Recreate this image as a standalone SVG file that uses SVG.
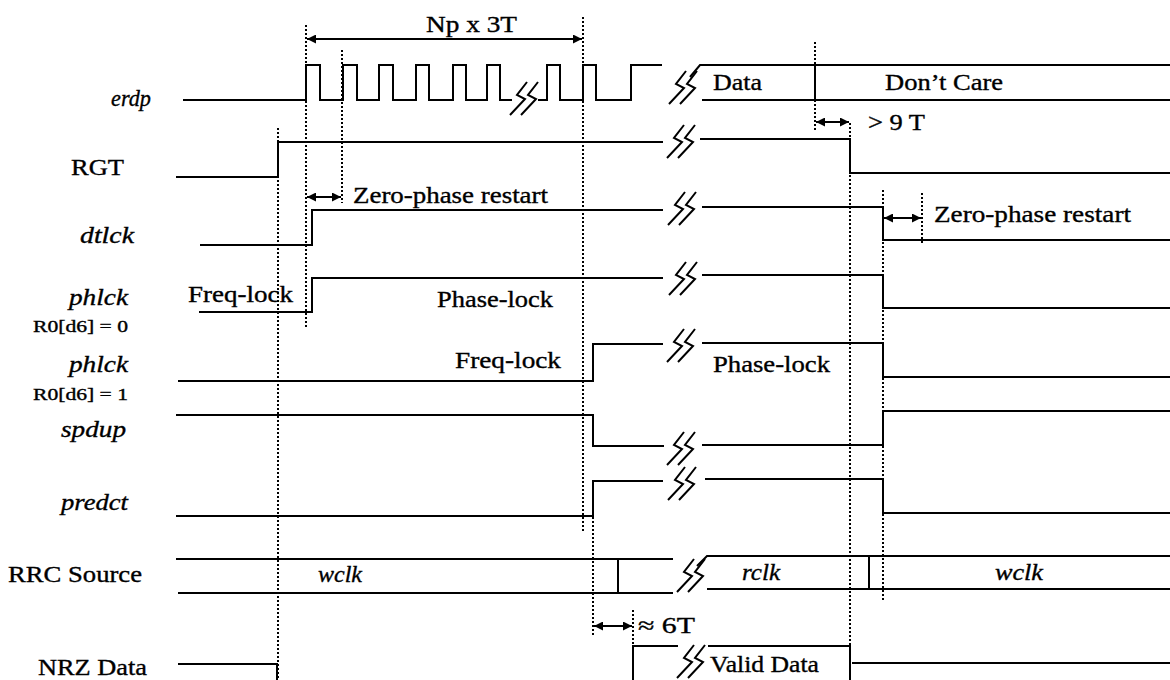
<svg xmlns="http://www.w3.org/2000/svg" width="1170" height="680" viewBox="0 0 1170 680">
<style>
.sig{fill:none;stroke:#000;stroke-width:2;stroke-linejoin:miter}
.dot{fill:none;stroke:#000;stroke-width:2;stroke-dasharray:2 2}
.arr{fill:none;stroke:#000;stroke-width:2;marker-start:url(#ah);marker-end:url(#ah)}
.brk{fill:none;stroke:#000;stroke-width:2}
.t{font-family:'Liberation Serif','DejaVu Serif','Times New Roman',serif;font-size:23px;fill:#000;stroke:#000;stroke-width:0.35}
.it{font-style:italic}
.sm{font-size:16px}
</style>
<defs>
<marker id="ah" viewBox="0 0 10 10" refX="10" refY="5" markerWidth="11" markerHeight="9" markerUnits="userSpaceOnUse" orient="auto-start-reverse"><path d="M0,0 L10,5 L0,10 z" fill="#000"/></marker>
<g id="brk" class="brk"><path d="M2,-15 L-8,-2 L0,2 L-15,18"/><path d="M13,-15 L3,-2 L11,2 L-4,18"/></g>
</defs>
<rect width="1170" height="680" fill="#fff"/>

<g id="labels" class="t">
<text class="it" x="111" y="106" textLength="40" lengthAdjust="spacingAndGlyphs">erdp</text>
<text x="71" y="175" textLength="53" lengthAdjust="spacingAndGlyphs">RGT</text>
<text class="it" x="80" y="243" textLength="54" lengthAdjust="spacingAndGlyphs">dtlck</text>
<text class="it" x="69" y="305" textLength="59" lengthAdjust="spacingAndGlyphs">phlck</text>
<text class="sm" x="33" y="332" textLength="95" lengthAdjust="spacingAndGlyphs">R0[d6] = 0</text>
<text class="it" x="69" y="372" textLength="59" lengthAdjust="spacingAndGlyphs">phlck</text>
<text class="sm" x="33" y="400" textLength="95" lengthAdjust="spacingAndGlyphs">R0[d6] = 1</text>
<text class="it" x="61" y="437" textLength="65" lengthAdjust="spacingAndGlyphs">spdup</text>
<text class="it" x="61" y="510" textLength="67" lengthAdjust="spacingAndGlyphs">predct</text>
<text x="8" y="582" textLength="134" lengthAdjust="spacingAndGlyphs">RRC Source</text>
<text x="38" y="675" textLength="109" lengthAdjust="spacingAndGlyphs">NRZ Data</text>
</g>

<g id="erdp">
<path class="sig" d="M183,100 H306 V65 H320 V100 H343 V65 H357 V100 H379 V65 H393 V100 H416 V65 H429 V100 H453 V65 H466 V100 H487 V65 H500 V100 H512"/>
<use href="#brk" x="525" y="97"/>
<path class="sig" d="M538,100 H547 V65 H560 V100 H583 V65 H596 V100 H631 V65 H662"/>
<use href="#brk" x="684" y="86"/>
<path class="sig" d="M690,77 L700,65 H1170 M702,100 H1170 M815,65 V100"/>
<text class="t" x="713" y="90" textLength="49" lengthAdjust="spacingAndGlyphs">Data</text>
<text class="t" x="885" y="90" textLength="118" lengthAdjust="spacingAndGlyphs">Don’t Care</text>
</g>

<g id="rgt">
<path class="sig" d="M176,177 H278 V142 H663 M700,139 H850 V173 H1170"/>
<use href="#brk" x="682" y="140"/>
</g>

<g id="dtlck">
<path class="sig" d="M200,245 H312 V210 H663 M702,207 H883 V240 H1170"/>
<use href="#brk" x="683" y="207"/>
</g>

<g id="phlck0">
<path class="sig" d="M199,312 H312 V278 H663 M702,275 H883 V308 H1170"/>
<use href="#brk" x="684" y="277"/>
<text class="t" x="188" y="302" textLength="105" lengthAdjust="spacingAndGlyphs">Freq-lock</text>
<text class="t" x="437" y="307" textLength="116" lengthAdjust="spacingAndGlyphs">Phase-lock</text>
</g>

<g id="phlck1">
<path class="sig" d="M178,381 H593 V344 H663 M702,343 H883 V377 H1170"/>
<use href="#brk" x="682" y="344"/>
<text class="t" x="455" y="368" textLength="106" lengthAdjust="spacingAndGlyphs">Freq-lock</text>
<text class="t" x="713" y="372" textLength="117" lengthAdjust="spacingAndGlyphs">Phase-lock</text>
</g>

<g id="spdup">
<path class="sig" d="M176,415 H593 V446 H664 M702,445 H883 V411 H1170"/>
<use href="#brk" x="682" y="447"/>
</g>

<g id="predct">
<path class="sig" d="M176,516 H593 V481 H663 M705,479 H883 V513 H1170"/>
<use href="#brk" x="683" y="482"/>
</g>

<g id="rrc">
<path class="sig" d="M176,559 H673 M178,593 H673 M618,558 V592 M697,566 L707,556 H1170 M707,589 H1170 M869,556 V589"/>
<use href="#brk" x="692" y="574"/>
<text class="t it" x="318" y="582" textLength="44" lengthAdjust="spacingAndGlyphs">wclk</text>
<text class="t it" x="742" y="580" textLength="38" lengthAdjust="spacingAndGlyphs">rclk</text>
<text class="t it" x="995" y="580" textLength="48" lengthAdjust="spacingAndGlyphs">wclk</text>
</g>

<g id="nrz">
<path class="sig" d="M178,664 H277 V680 M633,680 V646 H678 M708,646 H850 V680 M852,663 H1170"/>
<use href="#brk" x="692" y="660"/>
<text class="t" x="710" y="672" textLength="109" lengthAdjust="spacingAndGlyphs">Valid Data</text>
</g>

<g id="connectors">
<path class="dot" d="M278,128 V680 M306,25 V329 M342,50 V203 M583,17 V532 M593,513 V637 M633,610 V646 M815,42 V65 M815,100 V130 M850,123 V646 M883,190 V602 M922,193 V243"/>
<line class="arr" x1="307" y1="39" x2="582" y2="39"/>
<line class="arr" x1="307" y1="197" x2="341" y2="197"/>
<line class="arr" x1="884" y1="218" x2="921" y2="218"/>
<line class="arr" x1="816" y1="122" x2="849" y2="122"/>
<line class="arr" x1="594" y1="626" x2="632" y2="626"/>
<text class="t" x="426" y="32" textLength="91" lengthAdjust="spacingAndGlyphs">Np x 3T</text>
<text class="t" x="353" y="203" textLength="195" lengthAdjust="spacingAndGlyphs">Zero-phase restart</text>
<text class="t" x="934" y="222" textLength="197" lengthAdjust="spacingAndGlyphs">Zero-phase restart</text>
<text class="t" x="868" y="130" textLength="57" lengthAdjust="spacingAndGlyphs">&gt; 9 T</text>
<text class="t" x="638" y="633" textLength="57" lengthAdjust="spacingAndGlyphs">≈ 6T</text>
</g>
</svg>
